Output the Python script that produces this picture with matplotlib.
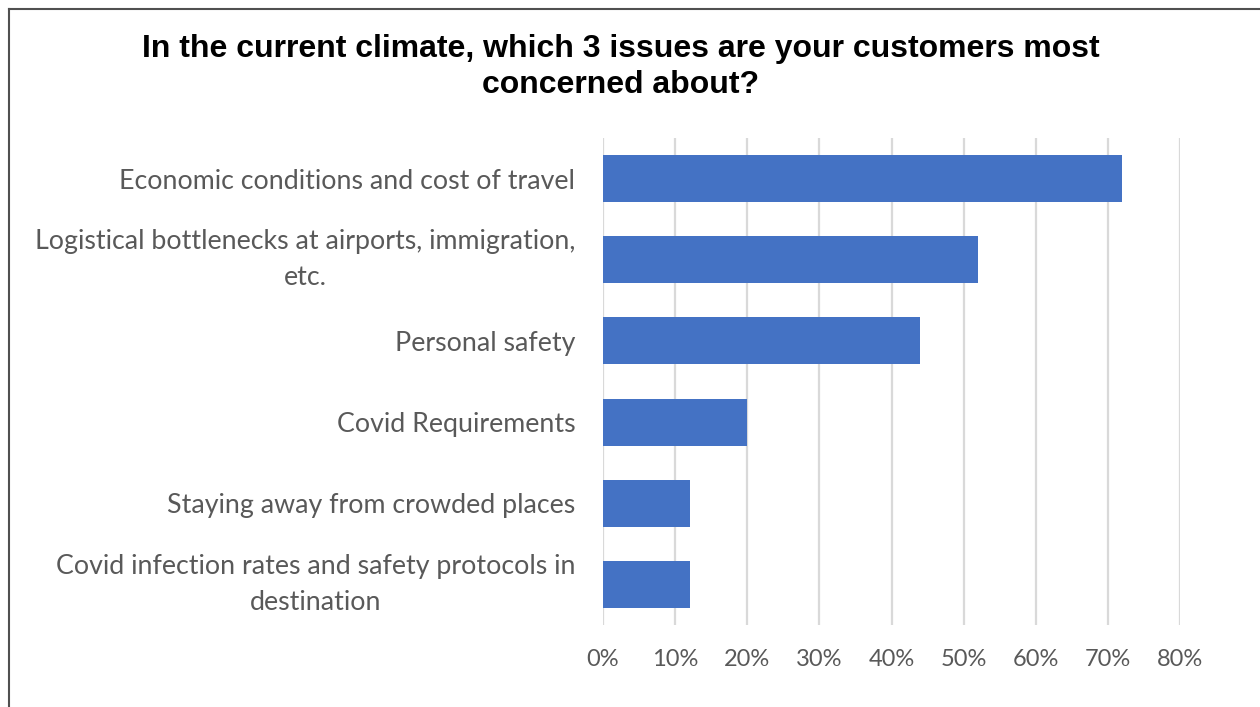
import matplotlib
matplotlib.use("Agg")
import matplotlib.pyplot as plt
from matplotlib.lines import Line2D

categories = [
    "Economic conditions and cost of travel",
    "Logistical bottlenecks at airports, immigration,\netc.",
    "Personal safety",
    "Covid Requirements",
    "Staying away from crowded places",
    "Covid infection rates and safety protocols in\ndestination",
]
values = [0.72, 0.52, 0.44, 0.20, 0.12, 0.12]
tick_values = [0.0, 0.1, 0.2, 0.3, 0.4, 0.5, 0.6, 0.7, 0.8]
tick_labels = ["0%", "10%", "20%", "30%", "40%", "50%", "60%", "70%", "80%"]
title = "In the current climate, which 3 issues are your customers most\nconcerned about?"

label_font = "Lato"
text_gray = "#595959"

fig = plt.figure(figsize=(12.6, 7.07), dpi=100)
ax = fig.add_axes([603 / 1260, 1 - 625 / 707, (1180 - 603) / 1260, (625 - 138) / 707])

y = list(range(len(categories)))
ax.barh(y, values, height=0.58, color="#4472c4", zorder=3)
ax.set_ylim(len(categories) - 0.5, -0.5)
ax.set_xlim(0, 0.8)

ax.set_xticks(tick_values)
ax.set_xticklabels(tick_labels, fontfamily=label_font, fontsize=17, color=text_gray)
ax.set_yticks(y)
ax.set_yticklabels(categories, fontfamily=label_font, fontsize=19.3, color=text_gray,
                   multialignment="center", linespacing=1.55)
for lbl in ax.get_yticklabels():
    if "\n" in lbl.get_text():
        lbl.set_verticalalignment("center")
ax.tick_params(axis="both", length=0)
ax.tick_params(axis="y", pad=20)
ax.tick_params(axis="x", pad=17)

ax.grid(axis="x", color="#d9d9d9", linewidth=1.6, zorder=0)
for s in ax.spines.values():
    s.set_visible(False)

fig.text(621 / 1260, 1 - 67 / 707, title, ha="center", va="center",
         fontfamily="Liberation Sans", fontweight="bold", fontsize=23,
         color="black", linespacing=1.27)

# outer frame (left and top edges)
fig.add_artist(Line2D([8.5 / 1260, 8.5 / 1260], [0, 1 - 8.5 / 707],
                      transform=fig.transFigure, color="#505050", linewidth=1.5))
fig.add_artist(Line2D([8.5 / 1260, 1], [1 - 8.5 / 707, 1 - 8.5 / 707],
                      transform=fig.transFigure, color="#505050", linewidth=1.5))

fig.savefig("out.png", dpi=100, facecolor="white")
